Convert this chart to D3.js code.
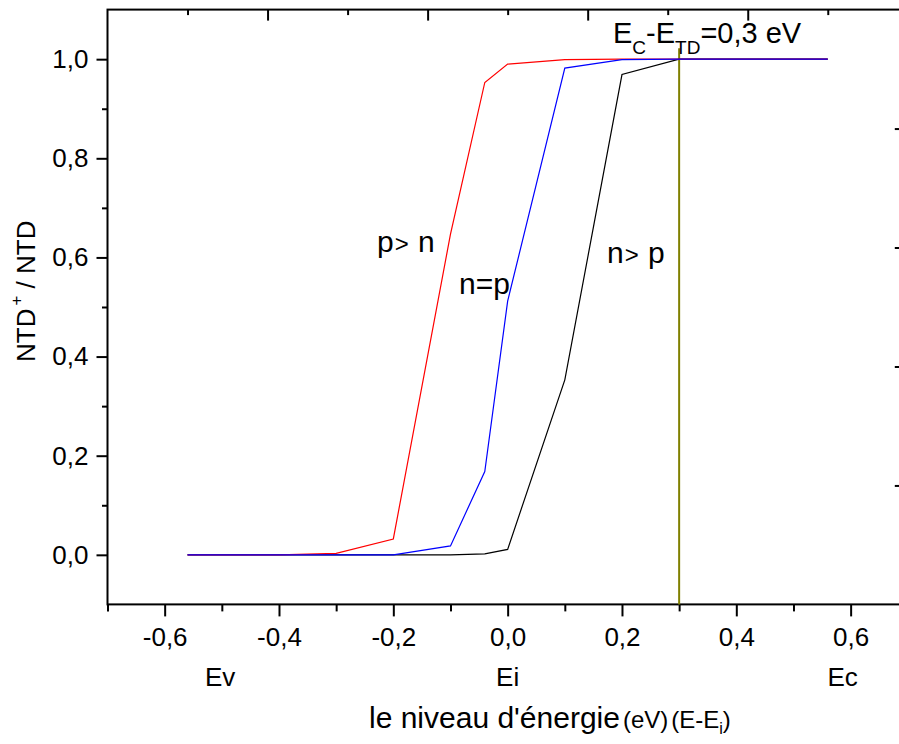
<!DOCTYPE html>
<html>
<head>
<meta charset="utf-8">
<script src="https://cdn.jsdelivr.net/npm/d3@7/dist/d3.min.js"></script>
<style>
  html, body { margin: 0; padding: 0; background: #fff; }
  svg { display: block; font-family: Arial, "Liberation Sans", Helvetica, sans-serif; }
</style>
</head>
<body>
<div id="chart"></div>
<script>
// Energy grid (eV, relative to Ei)
const energy = [-0.56, -0.4, -0.3, -0.2, -0.1, -0.04, 0.0, 0.1, 0.2, 0.3, 0.4, 0.56];

// Ionised fraction NTD+/NTD for the three doping regimes
const pGreaterN = [0, 0, 0.003, 0.032, 0.647, 0.953, 0.990, 0.999, 1.0, 1.0, 1.0, 1.0];
const nEqualP   = [0, 0, 0, 0.0, 0.018, 0.168, 0.512, 0.982, 0.999, 1.0, 1.0, 1.0];
const nGreaterP = [0, 0, 0, 0, 0, 0.002, 0.011, 0.353, 0.969, 1.0, 1.0, 1.0];

// Axis ticks
const xMajorTicks = [-0.6, -0.4, -0.2, 0.0, 0.2, 0.4, 0.6];
const xMinorTicks = [-0.7, -0.5, -0.3, -0.1, 0.1, 0.3, 0.5];
const yMajorTicks = [0.0, 0.2, 0.4, 0.6, 0.8, 1.0];
const yMinorTicks = [0.1, 0.3, 0.5, 0.7, 0.9];
const frameMajorTicks = [0.2, 0.4, 0.6, 0.8];
const frameMinorTicks = [0.1, 0.3, 0.5, 0.7, 0.9];

// Band-edge markers and trap level
const bandLabels = [
  { text: "Ev", e: -0.503 },
  { text: "Ei", e: 0.0 },
  { text: "Ec", e: 0.586 }
];
const trapLevel = 0.3;

const W = 899, H = 744;
const plotLeft = 107.5, plotRight = 907.8, plotTop = 9.6, plotBottom = 604.4;

const svg = d3.select("#chart").append("svg")
  .attr("width", W).attr("height", H);

const x = d3.scaleLinear().domain([-0.7, 0.7]).range([plotLeft, plotRight]);
const y = d3.scaleLinear().domain([-0.1, 1.1]).range([plotBottom, plotTop]);
const xs = d3.scaleLinear().domain([0, 1]).range([plotLeft, plotRight]);
const ys = d3.scaleLinear().domain([0, 1]).range([plotBottom, plotTop]);

const loc = d3.formatLocale({ decimal: ",", thousands: ".", grouping: [3], currency: ["", ""], minus: "-" });
const fmt = loc.format(".1f");

const fontSize = 26;

function styleAxis(g) {
  g.select(".domain").remove();
  g.selectAll(".tick line").attr("stroke", "#000").attr("stroke-width", 2);
  g.selectAll(".tick text").attr("fill", "#000").attr("font-size", fontSize)
    .attr("font-family", "Arial, 'Liberation Sans', sans-serif");
}

// Bottom axis
svg.append("g").attr("transform", `translate(0,${plotBottom})`)
  .call(d3.axisBottom(x).tickValues(xMajorTicks).tickSize(12).tickPadding(11.5).tickFormat(fmt))
  .call(styleAxis);
svg.append("g").attr("transform", `translate(0,${plotBottom})`)
  .call(d3.axisBottom(x).tickValues(xMinorTicks).tickSize(7).tickFormat(""))
  .call(styleAxis);

// Left axis
svg.append("g").attr("transform", `translate(${plotLeft},0)`)
  .call(d3.axisLeft(y).tickValues(yMajorTicks).tickSize(11).tickPadding(8).tickFormat(fmt))
  .call(styleAxis);
svg.append("g").attr("transform", `translate(${plotLeft},0)`)
  .call(d3.axisLeft(y).tickValues(yMinorTicks).tickSize(5.5).tickFormat(""))
  .call(styleAxis);

// Top and right frame axes (inward ticks, no labels)
svg.append("g").attr("transform", `translate(0,${plotTop})`)
  .call(d3.axisTop(xs).tickValues(frameMajorTicks).tickSize(-11).tickFormat(""))
  .call(styleAxis);
svg.append("g").attr("transform", `translate(0,${plotTop})`)
  .call(d3.axisTop(xs).tickValues(frameMinorTicks).tickSize(-5.5).tickFormat(""))
  .call(styleAxis);
svg.append("g").attr("transform", `translate(${plotRight},0)`)
  .call(d3.axisRight(ys).tickValues(frameMajorTicks).tickSize(-13).tickFormat(""))
  .call(styleAxis);
svg.append("g").attr("transform", `translate(${plotRight},0)`)
  .call(d3.axisRight(ys).tickValues(frameMinorTicks).tickSize(-6).tickFormat(""))
  .call(styleAxis);

// Frame
svg.append("rect")
  .attr("x", plotLeft).attr("y", plotTop)
  .attr("width", plotRight - plotLeft).attr("height", plotBottom - plotTop)
  .attr("fill", "none").attr("stroke", "#000").attr("stroke-width", 2);

// Trap level marker
svg.append("line")
  .attr("x1", x(trapLevel)).attr("x2", x(trapLevel))
  .attr("y1", y(-0.1)).attr("y2", y(1.022))
  .attr("stroke", "#808000").attr("stroke-width", 2);

// Curves
const line = d3.line().x(d => x(d[0])).y(d => y(d[1]));
const series = [
  { values: nGreaterP, color: "#000000" },
  { values: pGreaterN, color: "#ff0000" },
  { values: nEqualP,   color: "#0000ff" }
];
series.forEach(s => {
  svg.append("path")
    .datum(energy.map((e, i) => [e, s.values[i]]))
    .attr("d", line)
    .attr("fill", "none")
    .attr("stroke", s.color)
    .attr("stroke-width", 1.2);
});

// Curve labels
function regimeLabel(xp, yp, a, b) {
  const t = svg.append("text").attr("x", xp).attr("y", yp)
    .attr("font-size", 30).attr("fill", "#000");
  t.append("tspan").text(a);
  t.append("tspan").attr("font-size", 24).attr("dx", 1).text(">");
  t.append("tspan").attr("dx", 1).text("\u00a0" + b);
}
regimeLabel(377, 252, "p", "n");
regimeLabel(607, 263, "n", "p");
svg.append("text").attr("x", 459).attr("y", 294)
  .attr("font-size", 30).attr("fill", "#000").text("n=p");

// Trap level annotation
const ann = svg.append("text").attr("x", 613).attr("y", 43)
  .attr("font-size", 29).attr("fill", "#000");
ann.append("tspan").text("E");
ann.append("tspan").attr("font-size", 19).attr("dy", 10.5).text("C");
ann.append("tspan").attr("dy", -10.5).text("-E");
ann.append("tspan").attr("font-size", 19).attr("dy", 10.5).text("TD");
ann.append("tspan").attr("dy", -10.5).text("=0,3 eV");

// Band edge labels
svg.selectAll("text.band").data(bandLabels).join("text")
  .attr("class", "band")
  .attr("x", d => x(d.e)).attr("y", 686)
  .attr("text-anchor", "middle")
  .attr("font-size", fontSize).attr("fill", "#000")
  .text(d => d.text);

// X axis title
const xt = svg.append("text").attr("x", 369).attr("y", 728)
  .attr("font-size", 30).attr("fill", "#000");
xt.append("tspan").text("le niveau d'énergie");
xt.append("tspan").attr("font-size", 24).attr("dx", 3).text("(eV)");
xt.append("tspan").attr("font-size", 24).attr("dx", 3).text("(E-E");
xt.append("tspan").attr("font-size", 16).attr("dy", 6).text("i");
xt.append("tspan").attr("font-size", 24).attr("dy", -6).text(")");

// Y axis title
const yt = svg.append("text")
  .attr("transform", "translate(35,362) rotate(-90)")
  .attr("font-size", fontSize).attr("fill", "#000");
yt.append("tspan").text("NTD");
yt.append("tspan").attr("font-size", 17).attr("dx", 3).attr("dy", -13).text("+");
yt.append("tspan").attr("dy", 13).text(" / NTD");
</script>
</body>
</html>
